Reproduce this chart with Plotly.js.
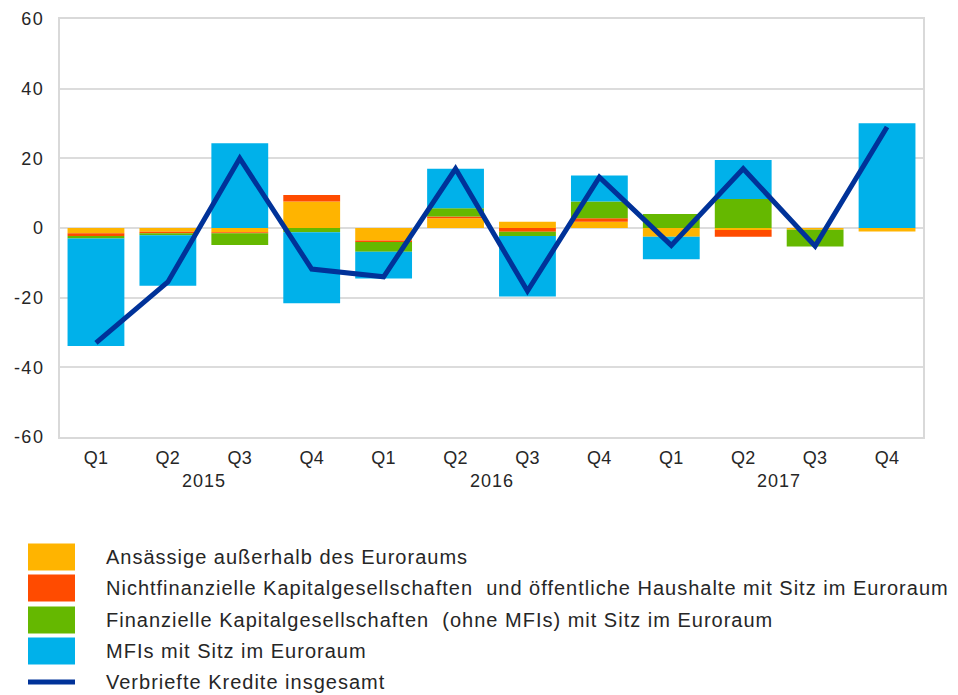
<!DOCTYPE html>
<html>
<head>
<meta charset="utf-8">
<script src="https://cdn.plot.ly/plotly-3.0.1.min.js"></script>
<style>
html,body{margin:0;padding:0;background:#fff;}
#chart{width:958px;height:695px;}
.annotation-text{letter-spacing:1px;}
#chart .ytick text{letter-spacing:1.5px;}
#chart .xtick text{letter-spacing:0.3px;}
</style>
</head>
<body>
<div id="chart"></div>
<script>
// Data
const quarters = ['Q1','Q2','Q3','Q4','Q1','Q2','Q3','Q4','Q1','Q2','Q3','Q4'];
const years    = ['2015','2015','2015','2015','2016','2016','2016','2016','2017','2017','2017','2017'];
const yearLabels = ['2015','2016','2017'];
const yTicks = [-60, -40, -20, 0, 20, 40, 60];

const ansaessige   = [-1.5, -1.1, -1.2,  7.6, -3.6,  2.8,  1.8,  1.8, -2.5, -0.6, -0.5, -1.0];
const nichtfinanz  = [-0.8, -0.4, -0.3,  1.9, -0.4,  0.5, -1.1,  1.0,  0.0, -1.9,  0.0,  0.0];
const finanziell   = [-0.7, -0.6, -3.4, -1.2, -2.8,  2.4, -1.2,  4.8,  4.0,  8.3, -4.8,  0.0];
const mfis         = [-30.9,-14.5, 24.3,-20.4, -7.7, 11.3,-17.4,  7.5, -6.5, 11.2,  0.0, 30.1];
const verbriefte   = [-33.0,-15.5, 20.0,-11.8,-14.0, 17.0,-18.1, 14.6, -5.0, 17.0, -5.2, 29.0];

const seriesNames = [
  'Ansässige außerhalb des Euroraums',
  'Nichtfinanzielle Kapitalgesellschaften  und öffentliche Haushalte mit Sitz im Euroraum',
  'Finanzielle Kapitalgesellschaften  (ohne MFIs) mit Sitz im Euroraum',
  'MFIs mit Sitz im Euroraum',
  'Verbriefte Kredite insgesamt'
];
const colors = ['#FFB400', '#FF4B00', '#65B800', '#00B1EA', '#003299'];

const xKeys = quarters.map((q, i) => years[i] + ' ' + q);
const barSeries = [ansaessige, nichtfinanz, finanziell, mfis];

const traces = barSeries.map((vals, i) => ({
  type: 'bar', x: xKeys, y: vals, name: seriesNames[i],
  marker: {color: colors[i], line: {width: 0}},
  hoverinfo: 'y+name'
}));
traces.push({
  type: 'scatter', mode: 'lines', x: xKeys, y: verbriefte, name: seriesNames[4],
  line: {color: colors[4], width: 5}
});

// Layout geometry (pixels)
const W = 958, H = 695;
const L = 60, R = 35, T = 19, B = 258;
const pw = W - L - R, ph = H - T - B;
const px = v => (v - L) / pw;
const py = v => (H - B - v) / ph;

const FONT = 'Liberation Sans, Arial, sans-serif';
const TXT = '#262626';
const shapes = [];
const annotations = [];

// year labels under the quarter ticks
yearLabels.forEach((yr, k) => {
  annotations.push({
    x: 4 * k + 1.5, xref: 'x', y: py(481), yref: 'paper',
    text: yr, showarrow: false, xanchor: 'center', yanchor: 'middle',
    font: {family: FONT, size: 18, color: TXT}
  });
});

// manual legend
const legendRows = [557, 588, 620, 651, 682];
seriesNames.forEach((nm, i) => {
  const yc = legendRows[i];
  if (i < 4) {
    shapes.push({type: 'rect', xref: 'paper', yref: 'paper',
      x0: px(28), x1: px(75), y0: py(yc - 13.5), y1: py(yc + 13.5),
      fillcolor: colors[i], line: {width: 0}});
  } else {
    shapes.push({type: 'line', xref: 'paper', yref: 'paper',
      x0: px(28), x1: px(75), y0: py(yc), y1: py(yc),
      line: {color: colors[i], width: 5}});
  }
  annotations.push({
    x: px(104), xref: 'paper', y: py(yc), yref: 'paper',
    text: nm.replace(/  /g, '&nbsp; '), showarrow: false, xanchor: 'left', yanchor: 'middle',
    font: {family: FONT, size: 20, color: TXT}
  });
});

const layout = {
  width: W, height: H,
  margin: {l: L, r: R, t: T, b: B, pad: 0},
  paper_bgcolor: '#ffffff', plot_bgcolor: '#ffffff',
  barmode: 'relative', bargap: 0.21,
  showlegend: false,
  font: {family: FONT, size: 18, color: TXT},
  xaxis: {
    type: 'category', range: [-0.5, 11.5],
    tickvals: xKeys, ticktext: quarters,
    showgrid: false, zeroline: false,
    showline: true, mirror: true, linecolor: '#d9d9d9', linewidth: 2,
    ticks: '', ticklabelstandoff: 3,
    tickfont: {family: FONT, size: 18, color: TXT},
    fixedrange: true
  },
  yaxis: {
    range: [-60, 60],
    tickvals: yTicks, ticktext: yTicks.map(String),
    showgrid: true, gridcolor: '#dcdcdc', gridwidth: 2,
    zeroline: false,
    showline: true, mirror: true, linecolor: '#d9d9d9', linewidth: 2,
    ticks: '', ticklabelstandoff: 10,
    tickfont: {family: FONT, size: 18, color: TXT},
    fixedrange: true
  },
  shapes: shapes,
  annotations: annotations
};

Plotly.newPlot('chart', traces, layout, {displayModeBar: false, staticPlot: true});
</script>
</body>
</html>
